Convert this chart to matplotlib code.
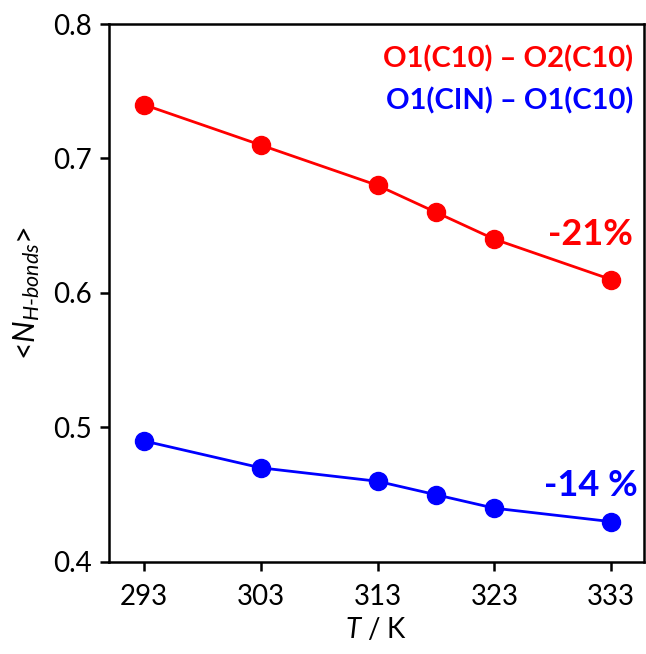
import matplotlib.pyplot as plt

plt.rcParams['font.family'] = ['Lato', 'DejaVu Sans']
plt.rcParams['mathtext.fontset'] = 'custom'
plt.rcParams['mathtext.rm'] = 'Lato'
plt.rcParams['mathtext.it'] = 'Lato:italic'

# temperatures (K) and mean number of H-bonds
temps = [293, 303, 313, 318, 323, 333]
o1c10_o2c10 = [0.74, 0.71, 0.68, 0.66, 0.64, 0.61]
o1cin_o1c10 = [0.49, 0.47, 0.46, 0.45, 0.44, 0.43]
xticks = [293, 303, 313, 323, 333]
yticks = [0.4, 0.5, 0.6, 0.7, 0.8]

fig = plt.figure(figsize=(6.46, 6.54), dpi=100)
ax = fig.add_axes([0.1687, 0.1407, 0.828, 0.8226])

ax.plot(temps, o1c10_o2c10, '-o', color='#ff0000', lw=2, ms=13)
ax.plot(temps, o1cin_o1c10, '-o', color='#0000ff', lw=2, ms=13)

ax.set_xlim(290.0, 335.8)
ax.set_ylim(0.4, 0.8)
ax.set_xticks(xticks)
ax.set_yticks(yticks)
ax.set_yticklabels(['0.4', '0.5', '0.6', '0.7', '0.8'])
ax.tick_params(direction='out', length=6.5, width=1.8, labelsize=20)
ax.tick_params(axis='x', pad=9)
ax.tick_params(axis='y', pad=6)
for s in ax.spines.values():
    s.set_linewidth(1.8)

ax.set_xlabel('$T$ / K', fontsize=20, labelpad=5)
ax.set_ylabel(r'<$N_{H\text{-}bonds}$>', fontsize=22, labelpad=8)

ax.text(0.98, 0.935, 'O1(C10) – O2(C10)', transform=ax.transAxes, ha='right', va='center',
        color='#ff0000', fontsize=21, fontweight='bold')
ax.text(0.98, 0.857, 'O1(CIN) – O1(C10)', transform=ax.transAxes, ha='right', va='center',
        color='#0000ff', fontsize=21, fontweight='bold')
ax.text(331.2, 0.6435, '-21%', ha='center', va='center', color='#ff0000', fontsize=26, fontweight='bold')
ax.text(331.3, 0.4565, '-14 %', ha='center', va='center', color='#0000ff', fontsize=26, fontweight='bold')

plt.savefig('out.png', dpi=100)
